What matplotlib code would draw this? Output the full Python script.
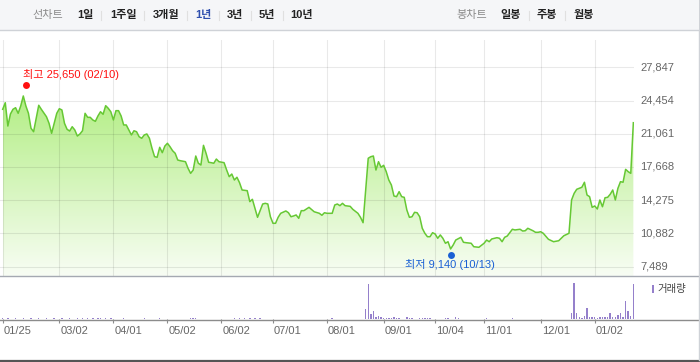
import numpy as np
import matplotlib
matplotlib.use('Agg')
import matplotlib.pyplot as plt
from matplotlib.patches import Rectangle
from matplotlib.lines import Line2D
from matplotlib.colors import LinearSegmentedColormap
from matplotlib.transforms import offset_copy

KR = ['Liberation Sans', 'Noto Sans CJK KR']
plt.rcParams['font.family'] = KR

# ---- data (trading-day index, close price) ----
days = [0, 1, 2, 3, 4, 5, 6, 7, 8, 9, 10, 11, 12, 13, 14, 15, 17, 18, 19, 20,
        21, 22, 23, 24, 25, 26, 27, 28, 29, 30, 31, 32, 33, 34, 35, 36, 37, 38, 39, 40,
        41, 42, 43, 44, 45, 46, 47, 48, 50, 51, 52, 53, 54, 55, 56, 57, 58, 59, 60, 61,
        62, 63, 64, 65, 66, 67, 68, 69, 71, 72, 73, 74, 75, 76, 77, 78, 79, 80, 81, 82,
        83, 84, 86, 87, 88, 89, 90, 91, 92, 93, 95, 96, 97, 98, 99, 100, 101, 102, 103, 104,
        105, 106, 107, 108, 110, 111, 112, 113, 114, 115, 116, 117, 119, 121, 123, 124, 125, 126, 128, 129,
        130, 131, 132, 133, 135, 136, 138, 139, 140, 142, 143, 144, 145, 146, 147, 148, 149, 150, 151, 152,
        153, 154, 155, 156, 157, 158, 159, 160, 161, 162, 163, 164, 165, 166, 167, 168, 169, 170, 171, 172,
        173, 174, 175, 176, 178, 179, 180, 182, 183, 185, 187, 188, 189, 190, 192, 193, 194, 195, 196, 198,
        199, 201, 202, 203, 204, 206, 207, 208, 209, 210, 212, 214, 216, 218, 220, 221, 222, 223, 224, 225,
        226, 227, 228, 229, 230, 231, 232, 233, 234, 235, 236, 237, 238, 239, 240, 241, 242, 243, 244, 245]
close = [23560, 24230, 21850, 23080, 23560, 23720, 23150, 23900, 24920, 23900, 23150, 21620, 21270, 22640, 23970, 23560, 22800, 22130, 21110, 22130,
         23150, 23620, 23490, 22130, 21520, 21340, 21780, 21450, 20830, 21040, 21370, 23150, 22740, 22740, 22470, 22330, 22880, 23310, 23050, 23930,
         23660, 23310, 22470, 23420, 23420, 22880, 21960, 21960, 20940, 21370, 21270, 20760, 20600, 20940, 21040, 20600, 19580, 18720, 18660, 19680,
         19130, 19810, 20090, 19740, 19330, 19070, 18380, 18310, 18210, 17540, 17020, 17360, 18790, 18050, 17870, 19880, 19070, 18150, 18110, 18050,
         18480, 18210, 18110, 17360, 16680, 16950, 16340, 16620, 16070, 15320, 15250, 14130, 14370, 13450, 12530, 13210, 13890, 13960, 13890, 12590,
         11920, 11920, 12530, 12940, 13180, 13000, 12590, 12670, 12770, 12430, 13210, 13210, 13550, 13100, 12940, 12740, 13000, 12940, 12940, 13790,
         13890, 13720, 13960, 13720, 13650, 13350, 12940, 12530, 11980, 18560, 18720, 18790, 17360, 18210, 17640, 17840, 17190, 16340, 15830, 14710,
         14640, 15150, 14640, 14570, 13280, 12530, 12590, 13040, 13000, 12590, 11410, 10900, 10550, 10550, 10960, 10830, 10390, 10730, 10390, 9880,
         10040, 9300, 9700, 10210, 10490, 9980, 9940, 9880, 9530, 9470, 9880, 10210, 10040, 10320, 10450, 10390, 10040, 10490, 10620, 11310,
         11240, 11310, 11130, 11160, 11410, 11160, 11000, 11000, 11060, 10900, 10290, 10040, 10140, 10650, 10900, 14300, 14980, 15390, 15490, 15600,
         16110, 14810, 14640, 13550, 13690, 13380, 14300, 13610, 14530, 14570, 14880, 15320, 14300, 15490, 16170, 16110, 17430, 17190, 17020, 22190]

vol_days = [0, 2, 5, 8, 11, 14, 17, 20, 23, 26, 29, 31, 33, 35, 37, 38, 40, 42, 47, 55,
            61, 73, 74, 75, 90, 92, 94, 96, 98, 100, 128,
            141, 142, 143, 144, 145, 146, 147, 148, 149, 150, 151, 152, 153, 154, 157, 158, 159, 162, 163,
            164, 165, 166, 172, 173, 176, 177, 188, 198,
            221, 222, 223, 224, 225, 226, 227, 228, 229, 230, 231, 232, 233, 234, 235, 236, 237, 238, 239, 240,
            241, 242, 243, 244, 245]
vol = [100, 100, 100, 100, 100, 100, 100, 100, 100, 100, 100, 100, 100, 100, 100, 100, 100, 100, 100, 100,
       100, 100, 100, 100, 100, 100, 100, 100, 100, 100, 100,
       1000, 3500, 530, 870, 200, 330, 270, 170, 130, 130, 130, 230, 130, 130, 230, 130, 130, 130, 130,
       130, 130, 130, 130, 130, 230, 130, 130, 130,
       670, 3670, 670, 200, 170, 330, 1130, 270, 270, 230, 170, 270, 200, 230, 200, 670, 270, 200, 430, 670,
       270, 1870, 870, 330, 3530]

tick_days = [0, 22, 43, 64, 85, 105, 126, 148, 168, 187, 209, 230]
tick_labels = ['01/25', '03/02', '04/01', '05/02', '06/02', '07/01', '08/01',
               '09/01', '10/04', '11/01', '12/01', '01/02']
y_ticks = [7489, 10882, 14275, 17668, 21061, 24454, 27847]

high_day, high_val, high_label = 9, 25650, '최고 25,650 (02/10)'
low_day, low_val, low_label = 174, 9140, '최저 9,140 (10/13)'

period_tabs = ['1일', '1주일', '3개월', '1년', '3년', '5년', '10년']
period_x = [85.5, 123.5, 166.5, 203.5, 235, 266.5, 301.5]
candle_tabs = ['일봉', '주봉', '월봉']
candle_x = [511, 547.3, 583.5]

W, H = 700, 362
fig = plt.figure(figsize=(7, 3.62), dpi=100)


def fx(x):
    return x / W


def fy(y):
    return 1 - y / H


# ---- top menu bar ----
fig.patches.append(Rectangle((0, fy(29.5)), fx(698), 29.5 / H, transform=fig.transFigure,
                             facecolor='#f5f6f8', edgecolor='none', zorder=0))
fig.add_artist(Line2D([0, fx(698)], [fy(29.5), fy(29.5)], color='#cfd2d7', lw=1))
fig.text(fx(48), fy(15), '선차트', ha='center', va='center', fontsize=8, color='#8a8a8a')
for lab, x in zip(period_tabs, period_x):
    c = '#2f4fae' if lab == '1년' else '#222222'
    fig.text(fx(x), fy(15), lab, ha='center', va='center', fontsize=8, color=c, fontweight='bold')
for x in [101, 144, 187, 219, 251, 283, 529, 565]:
    fig.add_artist(Line2D([fx(x), fx(x)], [fy(10.5), fy(20)], color='#e0e0e0', lw=0.8))
fig.text(fx(471.5), fy(15), '봉차트', ha='center', va='center', fontsize=8, color='#8a8a8a')
for lab, x in zip(candle_tabs, candle_x):
    fig.text(fx(x), fy(15), lab, ha='center', va='center', fontsize=8, color='#222222', fontweight='bold')

# ---- price panel ----
ylo, yhi = 6539, 30634
ax = fig.add_axes([0, fy(276), fx(633.5), (276 - 40) / H])
poly = ax.fill_between(days, close, ylo, facecolor='none', edgecolor='none')
grad = np.linspace(0, 1, 256).reshape(-1, 1)
cmap = LinearSegmentedColormap.from_list('grn', ['#f8fdf4', '#b3ee85'])
im = ax.imshow(grad, extent=[days[0], days[-1], ylo, 25000], origin='lower',
               aspect='auto', cmap=cmap, zorder=1, interpolation='bilinear')
im.set_clip_path(poly.get_paths()[0], transform=ax.transData)
ax.plot(days, close, color='#66c834', lw=1.1, zorder=4)

ax.set_xlim(-1.05, 245.06)
ax.set_ylim(ylo, yhi)
ax.set_xticks(tick_days)
ax.set_yticks(y_ticks)
ax.set_axisbelow(False)
ax.grid(True, color='black', alpha=0.085, lw=0.8)
ax.tick_params(length=0, labelleft=False, labelbottom=False)
for s in ax.spines.values():
    s.set_visible(False)
ax.patch.set_alpha(0)

for v in y_ticks:
    ax.annotate(f'{v:,}', (1, v), xycoords=ax.get_yaxis_transform(), xytext=(6.5, 0),
                textcoords='offset pixels', ha='left', va='center', fontsize=8, color='#666666')

ax.plot(high_day, high_val, 'o', color='#ff1010', ms=5, mec='none', zorder=5,
        transform=offset_copy(ax.transData, fig=fig, x=0, y=3.5, units='dots'))
ax.annotate(high_label, (high_day, high_val), xytext=(-3, 14), textcoords='offset pixels',
            ha='left', va='center', fontsize=8, color='#ff1010')
ax.plot(low_day, low_val, 'o', color='#1a60d4', ms=5, mec='none', zorder=5,
        transform=offset_copy(ax.transData, fig=fig, x=0, y=-4, units='dots'))
ax.annotate(low_label, (low_day, low_val), xytext=(-46, -14), textcoords='offset pixels',
            ha='left', va='center', fontsize=8, color='#1a60d4')

# ---- volume panel ----
axv = fig.add_axes([0, fy(319.3), fx(633.5), (319.3 - 277) / H])
axv.bar(vol_days, vol, width=0.55, color='#9580cb', linewidth=0)
axv.set_xlim(-1.05, 245.06)
axv.set_ylim(0, 4230)
axv.set_xticks(tick_days)
axv.set_xticklabels([])
axv.set_yticks([])
axv.tick_params(axis='x', direction='out', length=3, color='#8c8c8c', width=0.8)
for s in axv.spines.values():
    s.set_visible(False)
axv.patch.set_alpha(0)
for d, lab in zip(tick_days, tick_labels):
    axv.annotate(lab, (d, 0), xytext=(1, -12), textcoords='offset pixels',
                 ha='left', va='center', fontsize=8, color='#666666')

fig.patches.append(Rectangle((fx(652), fy(293)), 2.2 / W, 8 / H, transform=fig.transFigure,
                             facecolor='#9580cb', edgecolor='none'))
fig.text(fx(657), fy(289), '거래량', ha='left', va='center', fontsize=7.5, color='#444444')

# ---- frame lines ----
fig.add_artist(Line2D([0, fx(698)], [fy(276), fy(276)], color='#a5a9b2', lw=1))
fig.add_artist(Line2D([0, fx(698)], [fy(319.5), fy(319.5)], color='#8c8c8c', lw=1))
fig.add_artist(Line2D([0, 1], [fy(360.5), fy(360.5)], color='#555555', lw=1.6))
fig.add_artist(Line2D([fx(698.5), fx(698.5)], [fy(360), 1], color='#cfd2d7', lw=1))

fig.savefig('out.png', dpi=100, facecolor='white')
